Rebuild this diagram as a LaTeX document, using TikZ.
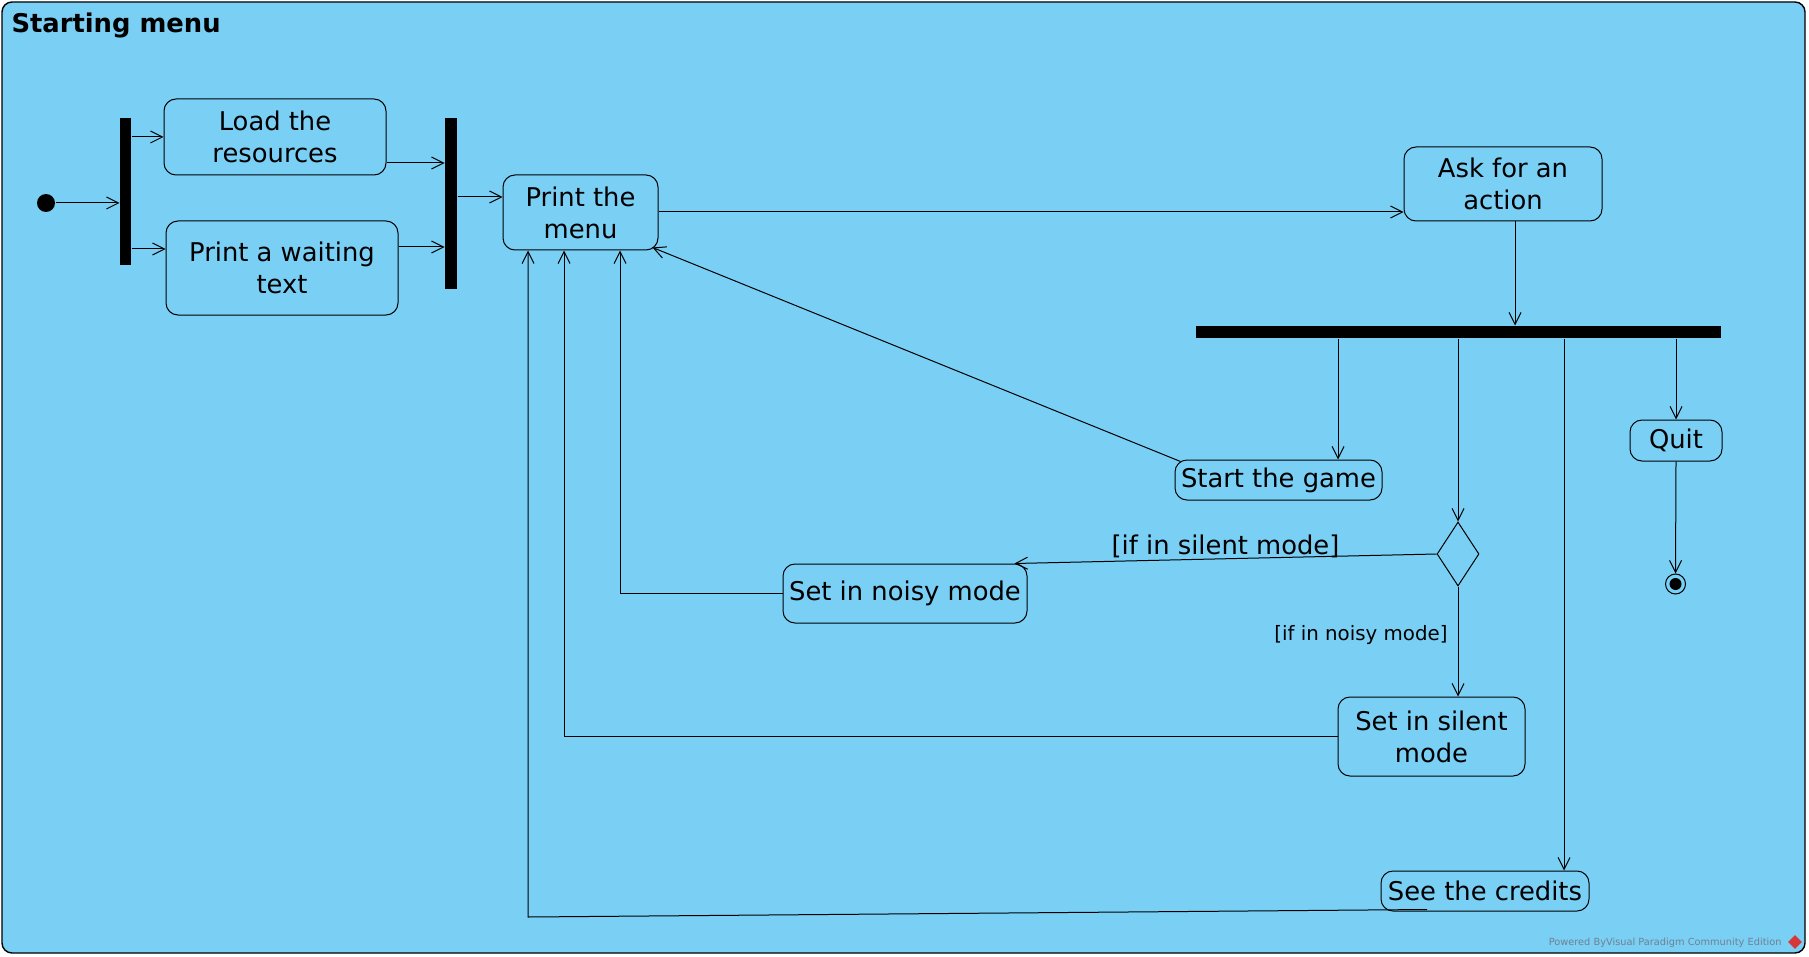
\documentclass[tikz,border=0pt]{standalone}
\usepackage{fontspec}
\setmainfont{DejaVu Sans}
\usetikzlibrary{arrows.meta,shapes.geometric,calc}
\definecolor{umlblue}{RGB}{122,207,245}
\definecolor{wmgray}{RGB}{112,128,144}
\definecolor{vpred}{RGB}{214,56,56}
\tikzset{
  action/.style={draw, rounded corners=6pt, inner sep=0pt, align=center,
    font=\fontsize{12.9}{16}\selectfont},
  syncbar/.style={fill=black, inner sep=0pt},
  flow/.style={->},
  guard/.style={inner sep=0pt, font=\fontsize{12.9}{16}\selectfont},
}

\begin{document}
\begin{tikzpicture}[x=0.5pt, y=-0.5pt, line width=0.5pt, >={Straight Barb[length=6pt,width=6pt]}]
 \useasboundingbox (0,0) rectangle (1809,957);
 \draw[fill=umlblue, rounded corners=5pt, line width=0.7pt] (2,2) rectangle (1805,953);
 \node[anchor=base west, inner sep=0pt, font=\bfseries\fontsize{12.9}{16}\selectfont] (title) at (11,33) {Starting menu};

 % start, fork and join
 \node[circle, fill=black, minimum size=9pt, inner sep=0pt] (init) at (46,203) {};
 \node[syncbar, minimum width=5.5pt, minimum height=73.5pt] (fork) at (125.5,191.5) {};
 \node[action, minimum width=111pt, minimum height=38pt] (load) at (275,137) {Load the\\resources};
 \node[action, minimum width=116pt, minimum height=47pt] (wait) at (282,268) {Print a waiting\\text};
 \node[syncbar, minimum width=6pt, minimum height=85.5pt] (join) at (451,203.5) {};
 \node[action, minimum width=77.5pt, minimum height=37.5pt] (menu) at (580.5,212.5) {Print the\\menu};

 \draw[flow] (init) -- (init -| fork.west);
 \draw[flow] (fork.east |- load.west) -- (load.west);
 \draw[flow] (fork.east |- 0,249) -- (wait.west |- 0,249);
 \draw[flow] (load.east |- 0,163) -- (join.west |- 0,163);
 \draw[flow] (wait.east |- 0,247) -- (join.west |- 0,247);
 \draw[flow] (join.east |- 0,197) -- (menu.west |- 0,197);

 % the actions
 \node[action, minimum width=99pt, minimum height=37pt] (ask) at (1503,184) {Ask for an\\action};
 \node[syncbar, minimum width=262.5pt, minimum height=6pt] (split) at (1458.5,332) {};
 \node[action, minimum width=103.5pt, minimum height=20pt] (start) at (1278.5,480) {Start the game};
 \node[action, minimum width=46pt, minimum height=20.5pt] (quit) at (1676,440.5) {Quit};
 \node[circle, draw, minimum size=10pt, inner sep=0pt] (final) at (1675.5,584) {};
 \fill (final) circle (3pt);
 \node[diamond, draw, minimum width=21pt, minimum height=32pt, inner sep=0pt] (choice) at (1458,554) {};
 \node[action, minimum width=122pt, minimum height=29.5pt] (noisy) at (905,593.5) {Set in noisy mode};
 \node[action, minimum width=93.5pt, minimum height=39.5pt] (silent) at (1431.5,736.5) {Set in silent\\mode};
 \node[action, minimum width=104pt, minimum height=20pt] (credits) at (1485,891) {See the credits};

 \draw[flow] (menu.east |- 0,212) -- (ask.west |- 0,212);
 \draw[flow] (ask.south -| 1515,0) -- (split.north -| 1515,0);
 \draw[flow] (split.south -| 1338,0) -- (start.north -| 1338,0);
 \draw[flow] (split.south -| choice.north) -- (choice.north);
 \draw[flow] (split.south -| 1564,0) -- (credits.north -| 1564,0);
 \draw[flow] (split.south -| quit.north) -- (quit.north);
 \draw[flow] (quit.south) -- (final.north);
 \draw[flow] (choice.west) -- node[guard, pos=0.5, above] {[if in silent mode]} ($(noisy.north east)+(-13,0)$);
 \draw[flow] (choice.south) -- node[pos=0.44, left, inner sep=5pt, font=\fontsize{9.9}{12}\selectfont] {[if in noisy mode]} (choice.south |- silent.north);

 % back to the menu
 \draw[flow] ($(start.north west)+(6,2)$) -- ($(menu.south east)+(-6,-3)$);
 \draw[flow] (noisy.west) -| (620,0 |- menu.south);
 \draw[flow] (silent.west) -| (564,0 |- menu.south);
 \coordinate (back) at (528,917);
 \draw[flow] ($(credits.south)+(-58,-2)$) -- (back) -- (back |- menu.south);

 % watermark
 \node[anchor=base east, inner sep=0pt, text=wmgray, font=\fontsize{4.9}{6}\selectfont] (powered) at (1782,945) {Powered ByVisual Paradigm Community Edition};
 \node[diamond, fill=vpred, minimum size=7pt, inner sep=0pt] (vplogo) at (1795,942) {};
\end{tikzpicture}
\end{document}
